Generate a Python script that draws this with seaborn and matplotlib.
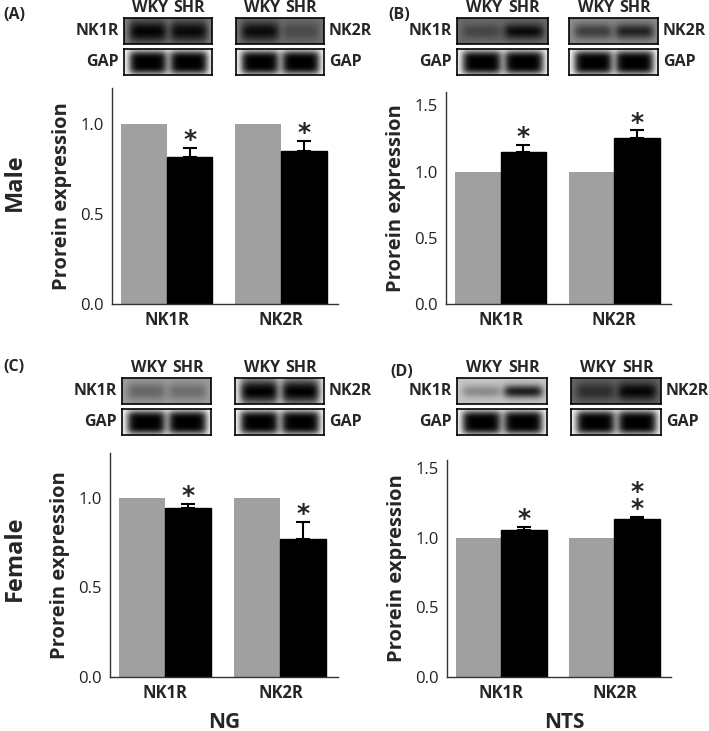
import matplotlib
matplotlib.use("Agg")
import matplotlib.pyplot as plt
import numpy as np
import pandas as pd
import seaborn as sns

# 데이터
genes = ["NK1R", "NK2R"]
groups = ["WKY", "SHR"]
wky_value = [1.0, 1.0]

ng_male_shr = [0.815, 0.85]
ng_male_sem = [0.05, 0.056]
nts_male_shr = [1.15, 1.25]
nts_male_sem = [0.05, 0.06]
ng_female_shr = [0.944, 0.77]
ng_female_sem = [0.022, 0.095]
nts_female_shr = [1.06, 1.135]
nts_female_sem = [0.018, 0.018]

ng_male_stars = ["*", "*"]
nts_male_stars = ["*", "*"]
ng_female_stars = ["*", "*"]
nts_female_stars = ["*", "*\n*"]

# 블롯 밴드 진하기 (WKY, SHR) 와 배경 밝기
blot_nk_bands = {"A": [(0.97, 0.92), (0.9, 0.35)],
                 "B": [(0.35, 0.9), (0.55, 0.75)],
                 "C": [(0.35, 0.3), (1.0, 1.0)],
                 "D": [(0.3, 0.85), (0.55, 0.95)]}
blot_nk_bg = {"A": [0.5, 0.45], "B": [0.42, 0.55], "C": [0.62, 0.9], "D": [0.78, 0.4]}
blot_nk_thick = {"A": [0.45, 0.4], "B": [0.3, 0.3], "C": [0.35, 0.55], "D": [0.25, 0.35]}
gap_bands = (1.0, 1.0)

W, H = 709, 731
GRAY = "#a0a0a0"

sns.set_theme(style="white")
plt.rcParams["font.family"] = ["Open Sans", "DejaVu Sans"]

fig = plt.figure(figsize=(W / 100, H / 100), dpi=100)


def px(x0, y0, x1, y1):
    return [x0 / W, 1 - y1 / H, (x1 - x0) / W, (y1 - y0) / H]


def band_image(bands, bg, thick=0.35, p=2):
    h, w = 30, 100
    yy, xx = np.mgrid[0:h, 0:w]
    xx = xx / w
    yy = yy / h
    img = np.full((h, w), bg)
    for cx, d in zip([0.27, 0.73], bands):
        prof = d * np.exp(-((xx - cx) / 0.22) ** 6) * np.exp(-np.abs((yy - 0.5) / thick) ** p)
        img = img * (1 - prof)
    return img


def draw_blot(rect, bands, bg, thick=0.35, p=2):
    bax = fig.add_axes(px(*rect))
    bax.imshow(band_image(bands, bg, thick, p), cmap="gray", vmin=0, vmax=1,
               aspect="auto", interpolation="bilinear")
    bax.set_xticks([])
    bax.set_yticks([])
    for s in bax.spines.values():
        s.set_visible(True)
        s.set_color("black")
        s.set_linewidth(1.2)
    return bax


def blot_block(key, letter_xy, box1_x, box2_x, top_y):
    x0a, x1a = box1_x
    x0b, x1b = box2_x
    nk_rect1 = (x0a, top_y, x1a, top_y + 26)
    nk_rect2 = (x0b, top_y, x1b, top_y + 26)
    gap_rect1 = (x0a, top_y + 31, x1a, top_y + 57)
    gap_rect2 = (x0b, top_y + 31, x1b, top_y + 57)
    draw_blot(nk_rect1, blot_nk_bands[key][0], blot_nk_bg[key][0], blot_nk_thick[key][0])
    draw_blot(nk_rect2, blot_nk_bands[key][1], blot_nk_bg[key][1], blot_nk_thick[key][1])
    draw_blot(gap_rect1, gap_bands, 0.96, 0.45, 4)
    draw_blot(gap_rect2, gap_bands, 0.96, 0.45, 4)
    for x0, x1 in [box1_x, box2_x]:
        for g, f in zip(groups, [0.3, 0.74]):
            fig.text((x0 + f * (x1 - x0)) / W, 1 - (top_y - 10) / H, g,
                     ha="center", va="center", fontsize=11.5, fontweight="bold")
    fig.text((x0a - 5) / W, 1 - (top_y + 13) / H, "NK1R", ha="right", va="center",
             fontsize=11.5, fontweight="bold")
    fig.text((x0a - 5) / W, 1 - (top_y + 44) / H, "GAP", ha="right", va="center",
             fontsize=11.5, fontweight="bold")
    fig.text((x1b + 5) / W, 1 - (top_y + 13) / H, "NK2R", ha="left", va="center",
             fontsize=11.5, fontweight="bold")
    fig.text((x1b + 5) / W, 1 - (top_y + 44) / H, "GAP", ha="left", va="center",
             fontsize=11.5, fontweight="bold")
    fig.text(letter_xy[0] / W, 1 - letter_xy[1] / H, f"({key})", ha="left", va="center",
             fontsize=11.5, fontweight="bold")


def bar_panel(rect, shr, sem, stars, ytop):
    ax = fig.add_axes(px(*rect))
    df = pd.DataFrame({"gene": genes * 2,
                       "group": [groups[0]] * 2 + [groups[1]] * 2,
                       "value": wky_value + shr})
    sns.barplot(data=df, x="gene", y="value", hue="group", hue_order=groups,
                palette={"WKY": GRAY, "SHR": "black"}, errorbar=None,
                width=0.8, saturation=1, legend=False, ax=ax)
    for p in ax.containers[0]:
        p.set_edgecolor(GRAY)
        p.set_linewidth(0)
    for p in ax.containers[1]:
        p.set_edgecolor("black")
    xs = [p.get_x() + p.get_width() / 2 for p in ax.containers[1]]
    ax.errorbar(xs, shr, yerr=[np.zeros(len(sem)), sem], fmt="none",
                ecolor="black", elinewidth=1.5, capsize=5, capthick=1.5)
    for x, v, e, s in zip(xs, shr, sem, stars):
        ax.annotate(s, (x, v + e), xytext=(0, -3), textcoords="offset points",
                    ha="center", va="bottom", fontsize=18, fontweight="bold",
                    linespacing=0.6, family="DejaVu Sans")
    ax.set_xlim(-0.48, 1.5)
    ax.set_ylim(0, ytop)
    ax.set_yticks([0, 0.5, 1.0, 1.5] if ytop > 1.5 else [0, 0.5, 1.0])
    ax.set_yticklabels([f"{t:.1f}" for t in ax.get_yticks()], fontsize=12)
    ax.set_xticks([0, 1])
    ax.set_xticklabels(genes, fontsize=12, fontweight="bold")
    ax.tick_params(axis="y", direction="in", length=4, width=1, pad=6, colors="#222222")
    ax.tick_params(axis="x", length=0, pad=5)
    ax.set_xlabel("")
    ax.set_ylabel("Prorein expression", fontsize=14.5, fontweight="bold", labelpad=6)
    sns.despine(ax=ax)
    for s in ["left", "bottom"]:
        ax.spines[s].set_color("#333333")
        ax.spines[s].set_linewidth(1)
    return ax


blot_block("A", (3, 15), (124, 212), (236, 324), 18)
blot_block("B", (388, 15), (457, 548), (569, 658), 18)
blot_block("C", (3, 367), (122, 211), (235, 324), 378)
blot_block("D", (390, 372), (457, 547), (571, 661), 378)

bar_panel((112, 88, 338, 304), ng_male_shr, ng_male_sem, ng_male_stars, 1.2)
bar_panel((446, 92, 671, 304), nts_male_shr, nts_male_sem, nts_male_stars, 1.6)
bar_panel((110, 453, 338, 677), ng_female_shr, ng_female_sem, ng_female_stars, 1.25)
bar_panel((447, 460, 671, 677), nts_female_shr, nts_female_sem, nts_female_stars, 1.56)

fig.text(15 / W, 1 - 182 / H, "Male", rotation=90, ha="center", va="center",
         fontsize=17, fontweight="bold")
fig.text(15 / W, 1 - 558 / H, "Female", rotation=90, ha="center", va="center",
         fontsize=17, fontweight="bold")
fig.text(224 / W, 1 - 722 / H, "NG", ha="center", va="center", fontsize=15, fontweight="bold")
fig.text(564 / W, 1 - 722 / H, "NTS", ha="center", va="center", fontsize=15, fontweight="bold")

fig.savefig("out.png", dpi=100)
